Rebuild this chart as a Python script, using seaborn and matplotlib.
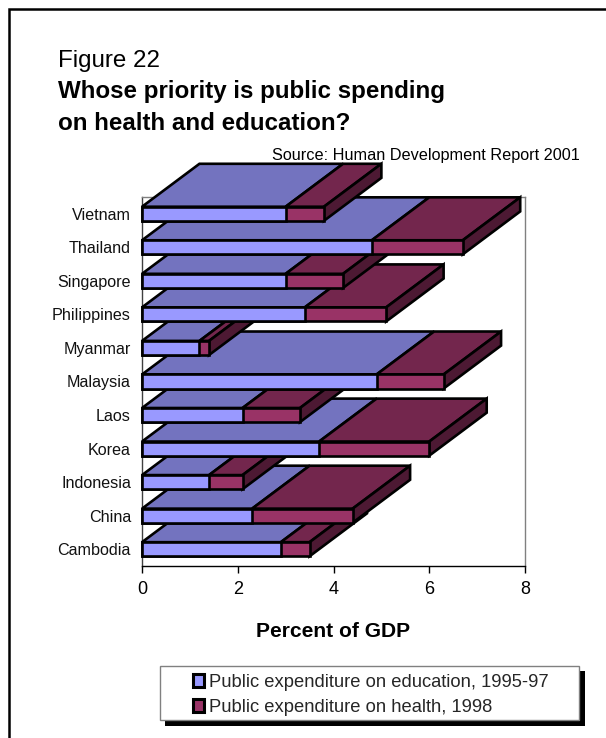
import matplotlib
matplotlib.use('Agg')
import matplotlib.pyplot as plt
from matplotlib.lines import Line2D
from matplotlib.patches import Polygon, Rectangle
import numpy as np
import seaborn as sns

countries = ['Vietnam', 'Thailand', 'Singapore', 'Philippines', 'Myanmar', 'Malaysia',
             'Laos', 'Korea', 'Indonesia', 'China', 'Cambodia']
education = [3.0, 4.8, 3.0, 3.4, 1.2, 4.9, 2.1, 3.7, 1.4, 2.3, 2.9]
health = [0.8, 1.9, 1.2, 1.7, 0.2, 1.4, 1.2, 2.3, 0.7, 2.1, 0.6]
xticks = [0, 2, 4, 6, 8]

EDU = '#9999FF'
EDU_TOP = '#7373BF'
HEALTH = '#993366'
HEALTH_TOP = '#73264D'
HEALTH_SIDE = '#4D1933'
DEPTH_X = 1.2    # 3d offset, x units
DEPTH_Y = -1.28  # 3d offset, category units
LW = 1.9

sns.set_theme(style='white')
plt.rcParams['font.family'] = ['Liberation Sans', 'DejaVu Sans']

W, H = 606, 738
fig = plt.figure(figsize=(W / 100, H / 100), dpi=100)
ax = fig.add_axes([142 / W, 1 - 566 / H, 383 / W, 369 / H])

total = np.array(education) + np.array(health)
sns.barplot(x=total, y=countries, color=HEALTH, saturation=1, width=0.42, ax=ax,
            edgecolor='black', linewidth=LW)
sns.barplot(x=education, y=countries, color=EDU, saturation=1, width=0.42, ax=ax,
            edgecolor='black', linewidth=LW)

n = len(countries)
health_bars = ax.patches[:n]
edu_bars = ax.patches[n:]


def face(pts, color, z):
    ax.add_patch(Polygon(pts, closed=True, facecolor=color, edgecolor='black', linewidth=LW,
                         joinstyle='miter', clip_on=False, zorder=z))


# lower categories first, each one covers the top face of the one below it
for i in range(n):
    z = 10 + (n - i) * 2
    eb, hb = edu_bars[i], health_bars[i]
    top_y = eb.get_y()
    bot_y = eb.get_y() + eb.get_height()
    e = education[i]
    t = total[i]
    face([(0, top_y), (e, top_y), (e + DEPTH_X, top_y + DEPTH_Y), (DEPTH_X, top_y + DEPTH_Y)], EDU_TOP, z)
    face([(e, top_y), (t, top_y), (t + DEPTH_X, top_y + DEPTH_Y), (e + DEPTH_X, top_y + DEPTH_Y)], HEALTH_TOP, z)
    face([(t, top_y), (t, bot_y), (t + DEPTH_X, bot_y + DEPTH_Y), (t + DEPTH_X, top_y + DEPTH_Y)], HEALTH_SIDE, z)
    for b in (hb, eb):
        b.set_zorder(z + 1)
        b.set_clip_on(False)
        b.set_joinstyle('miter')

ax.set_xlim(0, 8)
ax.set_xticks(xticks)
ax.tick_params(axis='x', length=5, width=1, color='black', labelsize=13, pad=6, labelcolor='black',
               bottom=True)
ax.tick_params(axis='y', length=0, labelsize=11.6, pad=8, labelcolor='#111111')
ax.set_xlabel('Percent of GDP', fontsize=15.1, fontweight='bold', labelpad=17, color='black')
ax.set_ylabel('')
for s in ('top', 'right'):
    ax.spines[s].set_color('#808080')
    ax.spines[s].set_linewidth(1)
ax.spines['left'].set_color('#404040')
ax.spines['left'].set_linewidth(1)
ax.spines['bottom'].set_color('black')
ax.spines['bottom'].set_linewidth(1)

fig.text(58 / W, 1 - 67.5 / H, 'Figure 22', fontsize=17.4, color='black')
fig.text(58 / W, 1 - 98 / H, 'Whose priority is public spending', fontsize=17.4, fontweight='bold', color='black')
fig.text(58 / W, 1 - 129.5 / H, 'on health and education?', fontsize=17.4, fontweight='bold', color='black')
fig.text(580 / W, 1 - 160 / H, 'Source: Human Development Report 2001', fontsize=11.7, ha='right', color='black')

# border is only on the top and left, right and bottom run off the image
fig.add_artist(Line2D([9 / W, 9 / W, 1], [0, 1 - 9 / H, 1 - 9 / H], transform=fig.transFigure,
                      color='black', linewidth=1.8, solid_joinstyle='miter'))
# legend box and its hard shadow
fig.add_artist(Rectangle((165 / W, 1 - 726 / H), 420 / W, 55 / H, transform=fig.transFigure,
                         facecolor='black', edgecolor='black', linewidth=0))
fig.add_artist(Rectangle((160 / W, 1 - 720 / H), 419 / W, 54 / H, transform=fig.transFigure,
                         facecolor='white', edgecolor='#808080', linewidth=1))
handles = [Rectangle((0, 0), 1, 1, facecolor=EDU, edgecolor='black', linewidth=2.2),
           Rectangle((0, 0), 1, 1, facecolor=HEALTH, edgecolor='black', linewidth=2.2)]
leg = fig.legend(handles, ['Public expenditure on education, 1995-97', 'Public expenditure on health, 1998'],
                 loc='upper left', bbox_to_anchor=(193 / W, 1 - 674 / H), frameon=False, fontsize=13.2,
                 handlelength=0.62, handleheight=0.7, handletextpad=0.24, labelspacing=0.43,
                 borderpad=0, borderaxespad=0)
leg.set_zorder(50)

fig.savefig('out.png', dpi=100)
